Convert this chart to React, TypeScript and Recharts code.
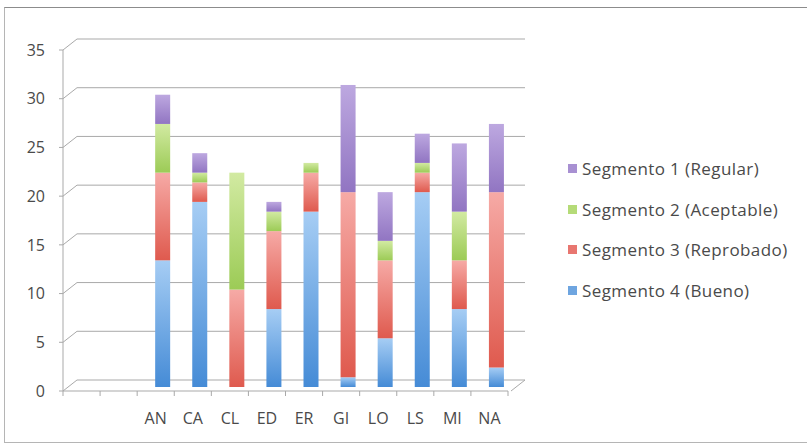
import React from 'react';
import { BarChart, Bar, XAxis, YAxis, CartesianGrid } from 'recharts';

// Escuelas (las dos primeras categorías vienen vacías en el original)
const categories = ['', '', 'AN', 'CA', 'CL', 'ED', 'ER', 'GI', 'LO', 'LS', 'MI', 'NA'];

// Alumnos por segmento
const segmento4 = [null, null, 13, 19, 0, 8, 18, 1, 5, 20, 8, 2];
const segmento3 = [null, null, 9, 2, 10, 8, 4, 19, 8, 2, 5, 18];
const segmento2 = [null, null, 5, 1, 12, 2, 1, 0, 2, 1, 5, 0];
const segmento1 = [null, null, 3, 2, 0, 1, 0, 11, 5, 3, 7, 7];

const yTicks = [0, 5, 10, 15, 20, 25, 30, 35];

const series = [
  { key: 'seg4', name: 'Segmento 4 (Bueno)', top: '#a6cdf4', bottom: '#458bd6', legend: '#6ea5e0' },
  { key: 'seg3', name: 'Segmento 3 (Reprobado)', top: '#f6aaa6', bottom: '#df5a4e', legend: '#e87670' },
  { key: 'seg2', name: 'Segmento 2 (Aceptable)', top: '#d2eaa2', bottom: '#9ccb56', legend: '#b5db78' },
  { key: 'seg1', name: 'Segmento 1 (Regular)', top: '#bda8e0', bottom: '#9175c2', legend: '#a890d2' },
];

const data = categories.map((name, i) => ({
  name,
  seg4: segmento4[i],
  seg3: segmento3[i],
  seg2: segmento2[i],
  seg1: segmento1[i],
}));

const FONT = '"Open Sans", sans-serif';
const TEXT = '#4a4a4a';
const GRID = '#a9a9a9';
const BAND = 445 / categories.length;

// desplazamiento de profundidad (efecto 3D de Excel)
const DEPTH_X = 14;
const DEPTH_Y = 11;

const GridLine = (props: any) => {
  const { x1, y1, x2 } = props;
  const isFloor = y1 > 389;
  return (
    <g key={props.key}>
      <line x1={x1} y1={y1} x2={x1 + DEPTH_X} y2={y1 - DEPTH_Y} stroke={GRID} />
      <line x1={x1 + DEPTH_X} y1={y1 - DEPTH_Y} x2={x2 + DEPTH_X + 3} y2={y1 - DEPTH_Y} stroke={GRID} />
      {isFloor && (
        <line x1={x2 + 3} y1={y1} x2={x2 + DEPTH_X + 3} y2={y1 - DEPTH_Y} stroke={GRID} />
      )}
    </g>
  );
};

const CategoryTick = (props: any) => {
  const { x, y, payload, index } = props;
  return (
    <g>
      <line x1={x - BAND / 2} y1={y} x2={x - BAND / 2} y2={y + 5} stroke={GRID} />
      {index === categories.length - 1 && (
        <line x1={x + BAND / 2} y1={y} x2={x + BAND / 2} y2={y + 5} stroke={GRID} />
      )}
      <text x={x} y={y + 33} textAnchor="middle" fill={TEXT} fontSize={16} fontFamily={FONT}>
        {payload.value}
      </text>
    </g>
  );
};

const Cylinder = (props: any) => {
  const { x, y, width, height, fill } = props;
  if (!height || height <= 0) return null;
  return <rect x={x + 7} y={y - 4} width={width} height={height} fill={fill} />;
};

export default function App() {
  return (
    <div style={{ position: 'absolute', left: 0, top: 0, width: 808, height: 444, background: '#fff' }}>
      <div
        style={{
          position: 'absolute',
          left: 4,
          top: 7,
          width: 802,
          height: 434,
          borderTop: '1px solid #8c8c8c',
          borderLeft: '1px solid #b5b5b5',
          borderBottom: '1px solid #b5b5b5',
        }}
      />
      <BarChart
        width={808}
        height={444}
        data={data}
        margin={{ top: 50, right: 300, bottom: 0, left: 0 }}
        barSize={15}
        style={{ position: 'absolute', left: 0, top: 0 }}
      >
        <defs>
          {series.map((s) => (
            <linearGradient key={s.key} id={`grad-${s.key}`} x1="0" y1="0" x2="0" y2="1">
              <stop offset="0%" stopColor={s.top} />
              <stop offset="100%" stopColor={s.bottom} />
            </linearGradient>
          ))}
        </defs>
        <CartesianGrid vertical={false} horizontal={GridLine} />
        <XAxis
          dataKey="name"
          interval={0}
          height={53}
          tickLine={false}
          tickSize={0}
          tickMargin={0}
          axisLine={{ stroke: GRID }}
          tick={<CategoryTick />}
        />
        <YAxis
          width={63}
          domain={[0, 35]}
          ticks={yTicks}
          tickSize={4}
          tickMargin={14}
          axisLine={{ stroke: GRID }}
          tickLine={{ stroke: GRID }}
          tick={{ fill: TEXT, fontSize: 16, fontFamily: FONT }}
        />
        {series.map((s) => (
          <Bar
            key={s.key}
            dataKey={s.key}
            name={s.name}
            stackId="a"
            fill={`url(#grad-${s.key})`}
            shape={<Cylinder />}
            isAnimationActive={false}
          />
        ))}
      </BarChart>
      <div
        style={{
          position: 'absolute',
          left: 568,
          top: 148,
          fontFamily: FONT,
          fontSize: 17,
          letterSpacing: 0.4,
          color: TEXT,
        }}
      >
        {[...series].reverse().map((s) => (
          <div key={s.key} style={{ display: 'flex', alignItems: 'center', height: 40.7 }}>
            <span style={{ width: 9, height: 9, background: s.legend, marginRight: 5 }} />
            <span>{s.name}</span>
          </div>
        ))}
      </div>
    </div>
  );
}
